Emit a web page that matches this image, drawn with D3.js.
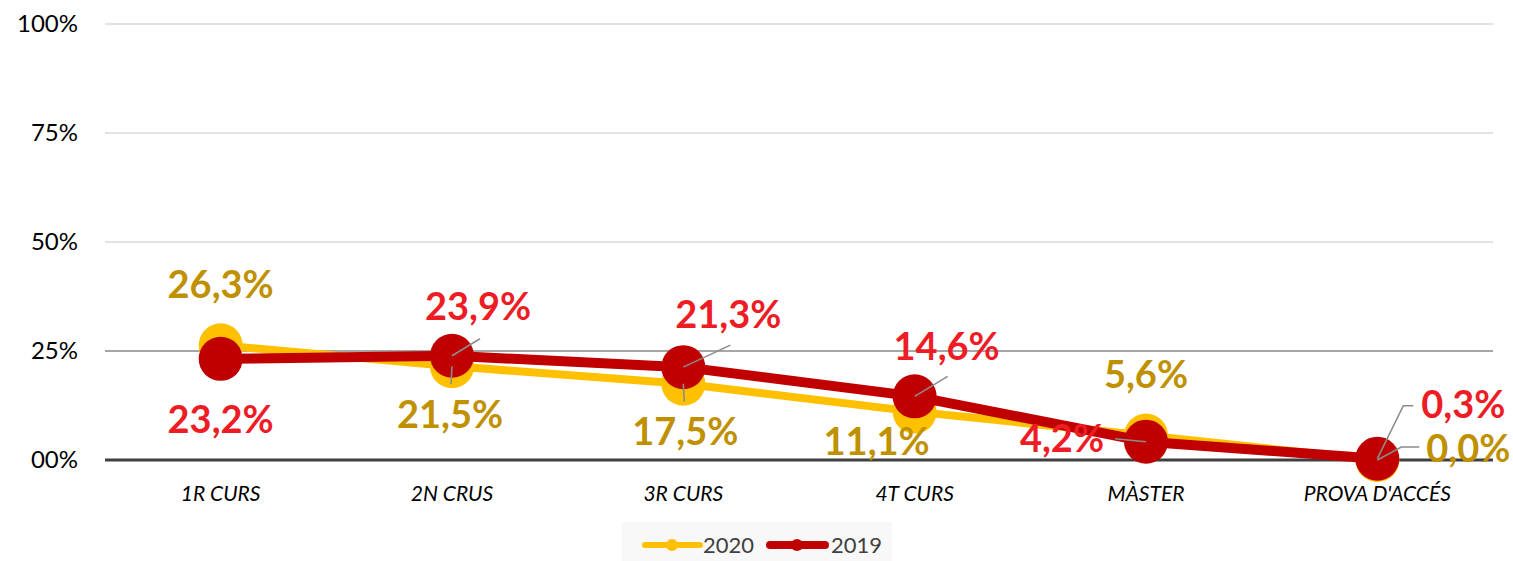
<!DOCTYPE html>
<html>
<head>
<meta charset="utf-8">
<script src="https://cdn.jsdelivr.net/npm/d3@7"></script>
<style>
  body { margin: 0; background: #fff; }
  svg { display: block; }
  .tick-label { font-family: Lato, "Open Sans", sans-serif; font-size: 24px; fill: #000; }
  .cat-label { font-family: Lato, "Open Sans", sans-serif; font-size: 21px; font-style: italic; fill: #000; }
  .val-label { font-family: Lato, "Open Sans", sans-serif; font-size: 38px; font-weight: bold; }
  .legend-text { font-family: Lato, "Open Sans", sans-serif; font-size: 22px; fill: #404040; }
</style>
</head>
<body>
<script>
var categories = ["1R CURS", "2N CRUS", "3R CURS", "4T CURS", "MÀSTER", "PROVA D'ACCÉS"];
var values2020 = [26.3, 21.5, 17.5, 11.1, 5.6, 0.0];
var values2019 = [23.2, 23.9, 21.3, 14.6, 4.2, 0.3];
var yTicks = [0, 25, 50, 75, 100];
var yTickLabels = ["00%", "25%", "50%", "75%", "100%"];

var svgWidth = 1513;
var svgHeight = 561;

var margin = { top: 24, right: 20, bottom: 101, left: 105 };
var width = svgWidth - margin.left - margin.right;
var height = svgHeight - margin.top - margin.bottom;

var svg = d3.select("body").append("svg")
  .attr("width", svgWidth)
  .attr("height", svgHeight);

var chartGroup = svg.append("g")
  .attr("transform", `translate(${margin.left}, ${margin.top})`);

var xScale = d3.scaleBand().domain(categories).range([0, width]);
var yScale = d3.scaleLinear().domain([0, 100]).range([height, 0]);
var xMid = (d) => xScale(d) + xScale.bandwidth() / 2;

// gridlines
chartGroup.selectAll(".grid")
  .data(yTicks.filter(t => t > 0))
  .enter().append("line")
  .attr("class", "grid")
  .attr("x1", 0).attr("x2", width)
  .attr("y1", d => yScale(d)).attr("y2", d => yScale(d))
  .attr("stroke", d => d === 25 ? "#a6a6a6" : "#e3e3e3")
  .attr("stroke-width", 2);

// y tick labels
chartGroup.selectAll(".tick-label")
  .data(yTicks)
  .enter().append("text")
  .attr("class", "tick-label")
  .attr("x", -27)
  .attr("y", d => yScale(d))
  .attr("dy", "0.35em")
  .attr("text-anchor", "end")
  .text((d, i) => yTickLabels[i]);

// zero axis line
chartGroup.append("line")
  .attr("x1", 0).attr("x2", width)
  .attr("y1", yScale(0)).attr("y2", yScale(0))
  .attr("stroke", "#404040")
  .attr("stroke-width", 3);

// category labels
chartGroup.selectAll(".cat-label")
  .data(categories)
  .enter().append("text")
  .attr("class", "cat-label")
  .attr("x", xMid)
  .attr("y", height + 41)
  .attr("text-anchor", "middle")
  .text(d => d);

var series = [
  { name: "2020", values: values2020, line: "#FFC000", text: "#BF9000", lw: 8 },
  { name: "2019", values: values2019, line: "#C00000", text: "#EE1C25", lw: 10 }
];

// label placement: [dx, dy] from the point to the text baseline centre
var labelOffsets = {
  "2020": [[0, -47], [-2, 62], [2, 61], [-38, 43], [0, -48], [91, 2]],
  "2019": [[0, 74], [26, -36], [45, -39], [32, -36], [-84, 10], [86, -41]]
};
// leader lines: list of [dx, dy] vertices starting at the point, or null
var leaders = {
  "2020": [null, [[0, 0], [-1, 18]], [[0, 0], [1, 18]], null, null, [[0, 0], [24, -13], [42, -13]]],
  "2019": [null, [[0, 0], [28, -17]], [[0, 0], [47, -22]], [[0, 0], [33, -20]], [[0, 0], [-31, -3]], [[0, 0], [26, -53], [36, -53]]]
};

var line = d3.line()
  .x((d, i) => xMid(categories[i]))
  .y(d => yScale(d));

series.forEach(function(s) {
  chartGroup.append("path")
    .datum(s.values)
    .attr("fill", "none")
    .attr("stroke", s.line)
    .attr("stroke-width", s.lw)
    .attr("stroke-linejoin", "round")
    .attr("d", line);

  chartGroup.selectAll(".dot-" + s.name)
    .data(s.values)
    .enter().append("circle")
    .attr("class", "dot-" + s.name)
    .attr("cx", (d, i) => xMid(categories[i]))
    .attr("cy", d => yScale(d))
    .attr("r", 22)
    .attr("fill", s.line);
});

series.forEach(function(s) {
  leaders[s.name].forEach(function(pts, i) {
    if (!pts) return;
    var px = xMid(categories[i]);
    var py = yScale(s.values[i]);
    chartGroup.append("polyline")
      .attr("points", pts.map(p => (px + p[0]) + "," + (py + p[1])).join(" "))
      .attr("fill", "none")
      .attr("stroke", "#8c8c8c")
      .attr("stroke-width", 1.6);
  });

  chartGroup.selectAll(".val-" + s.name)
    .data(s.values)
    .enter().append("text")
    .attr("class", "val-label val-" + s.name)
    .attr("x", (d, i) => xMid(categories[i]) + labelOffsets[s.name][i][0])
    .attr("y", (d, i) => yScale(d) + labelOffsets[s.name][i][1])
    .attr("text-anchor", "middle")
    .attr("fill", s.text)
    .text(d => d.toFixed(1).replace(".", ",") + "%");
});

// legend
var legend = svg.append("g").attr("transform", "translate(622, 522)");
legend.append("rect")
  .attr("width", 270).attr("height", 39)
  .attr("fill", "#f8f8f8");

var legendItems = [
  { s: series[0], x: 23, tx: 81 },
  { s: series[1], x: 148, tx: 209 }
];
legendItems.forEach(function(it) {
  legend.append("line")
    .attr("x1", it.x).attr("x2", it.x + 55)
    .attr("y1", 23).attr("y2", 23)
    .attr("stroke", it.s.line)
    .attr("stroke-width", it.s.lw - 2)
    .attr("stroke-linecap", "round");
  legend.append("circle")
    .attr("cx", it.x + 27).attr("cy", 23)
    .attr("r", 6)
    .attr("fill", it.s.line);
  legend.append("text")
    .attr("class", "legend-text")
    .attr("x", it.tx).attr("y", 23)
    .attr("dy", "0.35em")
    .text(it.s.name);
});
</script>
</body>
</html>
